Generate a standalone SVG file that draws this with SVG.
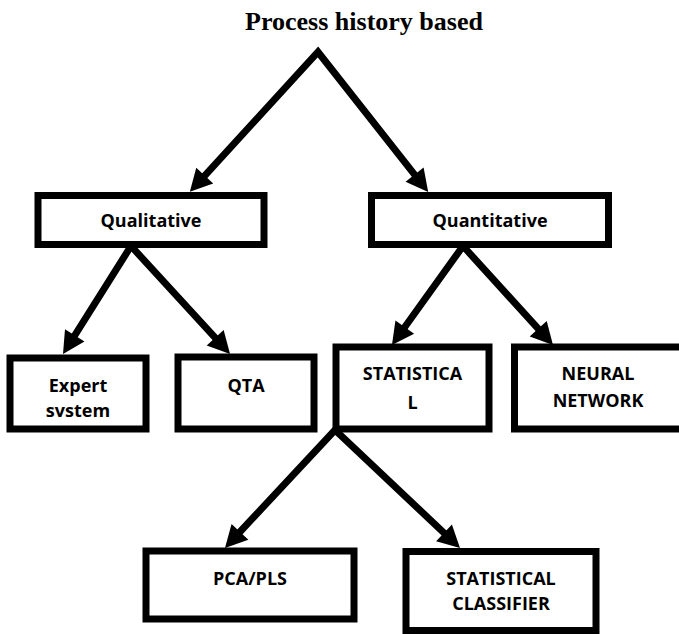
<svg xmlns="http://www.w3.org/2000/svg" width="679" height="634" viewBox="0 0 679 634">
<style>
.box{fill:#fff;stroke:#000;stroke-width:7}
.lbl{font-family:"Open Sans","Liberation Sans",sans-serif;font-weight:bold;font-size:18px;fill:#000;text-anchor:middle}
.title{font-family:"Liberation Serif",serif;font-weight:bold;font-size:26px;fill:#000;text-anchor:middle}
.conn{fill:none;stroke:#000;stroke-width:7;stroke-linejoin:miter;stroke-miterlimit:10}
</style>
<defs>
<marker id="ah" markerUnits="userSpaceOnUse" viewBox="-8 -13 26 26" markerWidth="26" markerHeight="26" refX="0" refY="0" orient="auto-start-reverse">
<path d="M15,0 L-7,-11.5 L-7,11.5 Z" fill="#000"/>
</marker>
</defs>
<rect width="679" height="634" fill="#fff"/>
<text class="title" x="364" y="30">Process history based</text>
<g id="connectors">
<path class="conn" d="M200,180.8 L318,52 L418.9,180.1" marker-start="url(#ah)" marker-end="url(#ah)"/>
<path class="conn" d="M71,341.3 L131,246 L219.9,342.9" marker-start="url(#ah)" marker-end="url(#ah)"/>
<path class="conn" d="M400.7,332.8 L463,246 L542.9,333.9" marker-start="url(#ah)" marker-end="url(#ah)"/>
<path class="conn" d="M235.2,537 L335,430 L449.1,537.7" marker-start="url(#ah)" marker-end="url(#ah)"/>
</g>
<g id="qualitative">
<rect class="box" x="38" y="195.5" width="226" height="49"/>
<text class="lbl" x="151" y="227">Qualitative</text>
</g>
<g id="quantitative">
<rect class="box" x="371.5" y="195.5" width="237" height="49"/>
<text class="lbl" x="490" y="227">Quantitative</text>
</g>
<g id="expert">
<rect class="box" x="10" y="358" width="136" height="71"/>
<text class="lbl" x="78" y="392">Expert</text>
<text class="lbl" x="78" y="417">svstem</text>
</g>
<g id="qta">
<rect class="box" x="178" y="357" width="136" height="72"/>
<text class="lbl" x="246" y="392">QTA</text>
</g>
<g id="statistical">
<rect class="box" x="336" y="347" width="153" height="82"/>
<text class="lbl" x="412.5" y="380">STATISTICA</text>
<text class="lbl" x="412.5" y="409">L</text>
</g>
<g id="neural">
<rect class="box" x="514.5" y="347" width="170" height="82"/>
<text class="lbl" x="598" y="380">NEURAL</text>
<text class="lbl" x="598" y="407">NETWORK</text>
</g>
<g id="pca">
<rect class="box" x="146" y="551" width="208" height="68"/>
<text class="lbl" x="250" y="585">PCA/PLS</text>
</g>
<g id="classifier">
<rect class="box" x="406" y="551.5" width="190" height="79"/>
<text class="lbl" x="501" y="585">STATISTICAL</text>
<text class="lbl" x="501" y="610">CLASSIFIER</text>
</g>
</svg>
